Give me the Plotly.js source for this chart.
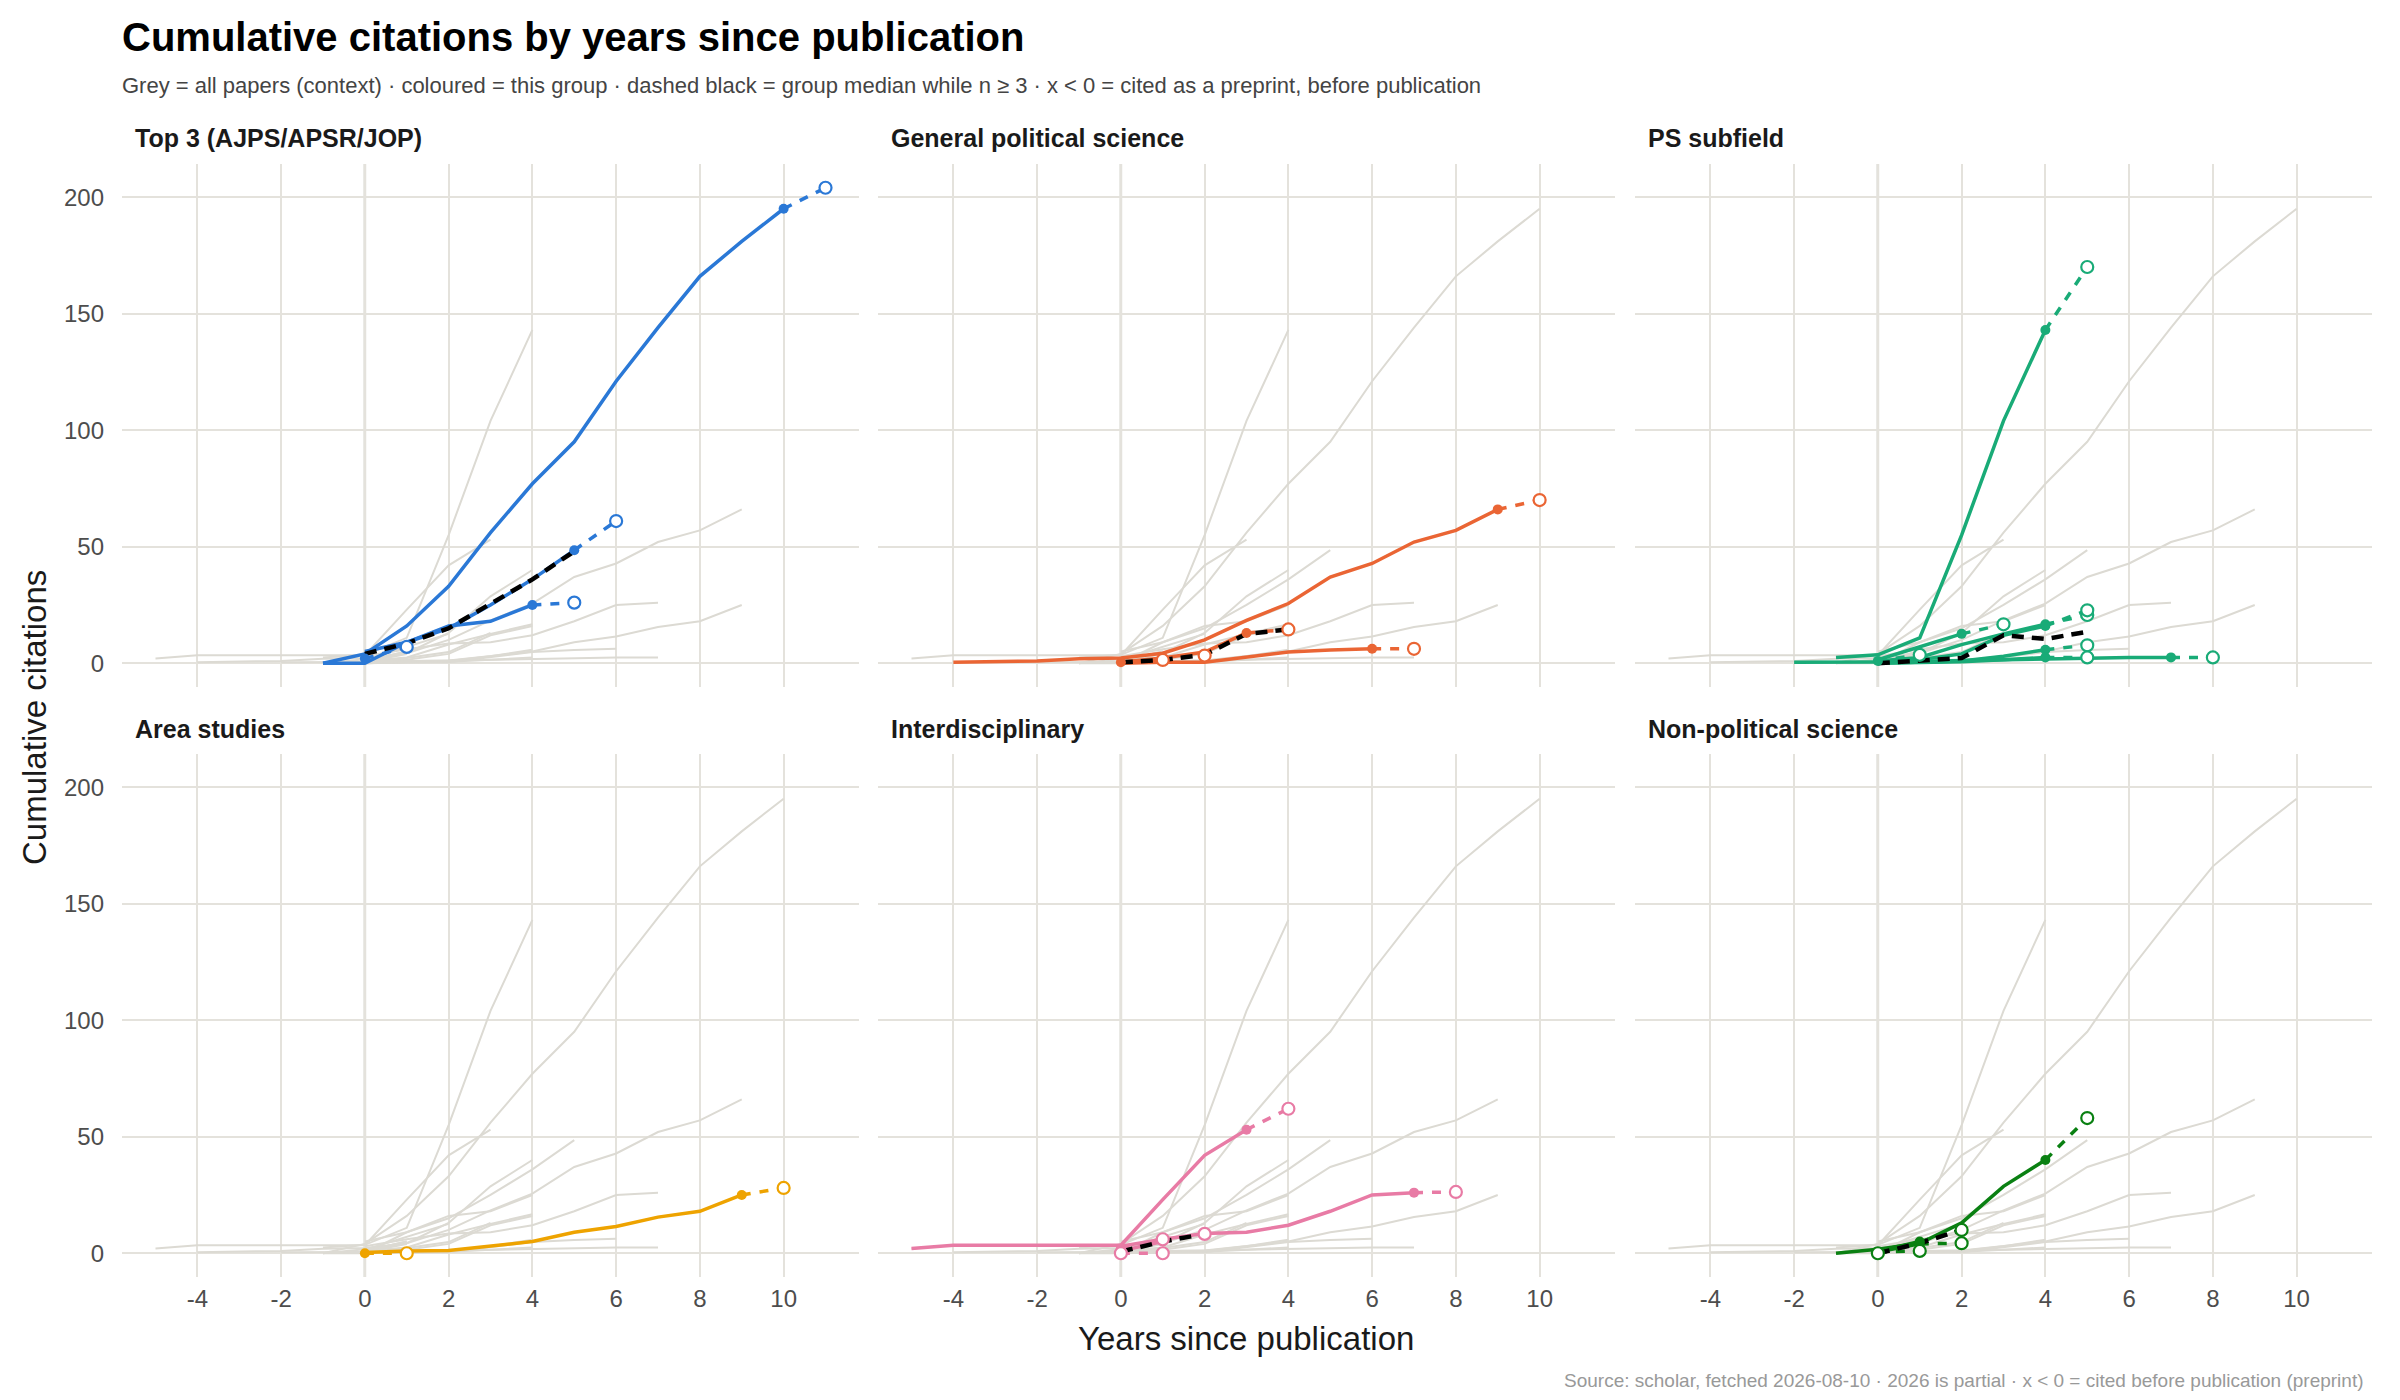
<!DOCTYPE html>
<html><head><meta charset="utf-8">
<script src="https://cdn.plot.ly/plotly-3.0.1.min.js"></script>
<style>html,body{margin:0;padding:0;background:#fff}#chart{width:2400px;height:1400px}</style>
</head><body><div id="chart"></div>
<script>
// ---------- DATA (cumulative citations) ----------
const groupNames = ['Top 3 (AJPS/APSR/JOP)', 'General political science', 'PS subfield',
                    'Area studies', 'Interdisciplinary', 'Non-political science'];
const groupColors = ['#2a78d6', '#ea6534', '#19ab77', '#eea300', '#e87ba5', '#0a8012'];

// each paper: first year (years since publication), full-year values, partial 2026 value
const top3Start   = [-1, 0, -1, 0];
const top3Full    = [[0, 4, 16, 33, 56, 77, 95, 121, 144, 166, 181, 195],
                     [5, 9, 15, 25, 36, 48.5],
                     [0, 0, 9, 16, 18, 25],
                     [2]];
const top3Partial = [204, 61, 26, 7];
const top3Median  = [4, 8.5, 15, 25.5, 36, 48];

const genStart   = [-4, 0, 0, 0, 0];
const genFull    = [[0.4, 0.7, 1, 1.9, 2.2, 4.3, 10, 18.4, 25.6, 37, 42.8, 52, 57, 66],
                    [0, 0.4, 0.4, 2.5, 4.8, 5.7, 6.2],
                    [0.4],
                    [0.5, 1.7],
                    [0.5, 2.2, 4.8, 13]];
const genPartial = [70, 6.2, 1.4, 3.3, 14.5];
const genMedian  = [0.4, 1.4, 3.6, 12.6, 14.5];

const subStart   = [-1, 0, -2, 0, 0, 0, 0, 0];
const subFull    = [[2.5, 3.6, 10.9, 55, 104, 143],
                    [1.5, 7, 12.6],
                    [0.4, 0.4, 0.5, 0.8, 1.2, 1.6, 2, 2.3, 2.5, 2.5],
                    [1, 2.5, 8, 12.6, 16.7],
                    [0.5, 1.5, 4, 12, 16],
                    [0, 0.5, 1, 3, 5.8],
                    [0, 0.3, 0.6, 1.5, 2.5],
                    [1]];
const subPartial = [170, 16.7, 2.5, 20.7, 22.7, 7.7, 2.5, 3.6];
const subMedian  = [0, 1.2, 2.2, 12, 10.4, 13.5];

const areaStart   = [0, 0];
const areaFull    = [[0],
                     [0.3, 1, 1.2, 3, 5, 9, 11.5, 15.5, 18, 25]];
const areaPartial = [0, 28];
const areaMedian  = [];

const interStart   = [-5, 0, 0, 0, 0, 0];
const interFull    = [[2, 3.4, 3.4, 3.4, 3.4, 3.4, 23, 42, 53],
                      [3, 6, 8.5, 9, 12, 18, 25, 26],
                      [2],
                      [1, 5],
                      [0],
                      []];
const interPartial = [62, 26.3, 6, 8.3, 0, 0];
const interMedian  = [0.7, 5, 8.3];

const nonStart   = [-1, 0, 0, 0, 0];
const nonFull    = [[0, 1.7, 4.3, 13, 28.7, 40],
                    [],
                    [0.5],
                    [0.5, 4],
                    [1, 5]];
const nonPartial = [58, 0, 1, 4.3, 10];
const nonMedian  = [0, 4.3, 10];

const medianStart = 0;
const xTickVals = [-4, -2, 0, 2, 4, 6, 8, 10];
const xTickText = ['-4', '-2', '0', '2', '4', '6', '8', '10'];
const yTickVals = [0, 50, 100, 150, 200];
const yTickText = ['0', '50', '100', '150', '200'];

// ---------- BUILD ----------
const groups = [
  {start: top3Start,  full: top3Full,  partial: top3Partial,  median: top3Median},
  {start: genStart,   full: genFull,   partial: genPartial,   median: genMedian},
  {start: subStart,   full: subFull,   partial: subPartial,   median: subMedian},
  {start: areaStart,  full: areaFull,  partial: areaPartial,  median: areaMedian},
  {start: interStart, full: interFull, partial: interPartial, median: interMedian},
  {start: nonStart,   full: nonFull,   partial: nonPartial,   median: nonMedian}
];
const yearsFrom = (s, n) => Array.from({length: n}, (_, i) => s + i);

const GRID = '#e4e2dc', CONTEXT = '#dcdad3', ZEROV = '#c6c6bd';
const colL = [122, 878, 1635], colW = 737;
const rowT = [164, 754], rowH = 523;
const W = 2400, H = 1400;

const traces = [];
const layout = {
  width: W, height: H, margin: {l: 0, r: 0, t: 0, b: 0},
  paper_bgcolor: '#fff', plot_bgcolor: '#fff', showlegend: false,
  font: {family: 'Liberation Sans, Arial, sans-serif', color: '#1a1a1a'},
  shapes: [], annotations: []
};

for (let k = 0; k < 6; k++) {
  const s = k === 0 ? '' : String(k + 1);
  const xa = 'x' + s, ya = 'y' + s;
  const col = k % 3, row = Math.floor(k / 3);
  layout['xaxis' + s] = {
    domain: [colL[col] / W, (colL[col] + colW) / W], anchor: ya,
    range: [-5.8, 11.8], tickvals: xTickVals, ticktext: xTickText,
    showgrid: true, gridcolor: GRID, gridwidth: 2, zeroline: false, showline: false, ticks: '',
    showticklabels: row === 1, tickfont: {size: 24, color: '#4d4d4d'}, ticklabelstandoff: 5
  };
  layout['yaxis' + s] = {
    domain: [1 - (rowT[row] + rowH) / H, 1 - rowT[row] / H], anchor: xa,
    range: [-10.2, 214.2], tickvals: yTickVals, ticktext: yTickText,
    showgrid: true, gridcolor: GRID, gridwidth: 2, zeroline: false, showline: false, ticks: '',
    showticklabels: col === 0, tickfont: {size: 24, color: '#4d4d4d'}, ticklabelstandoff: 17
  };
  layout.shapes.push({type: 'line', xref: xa, yref: ya + ' domain', x0: 0, x1: 0, y0: 0, y1: 1,
                      layer: 'below', line: {color: ZEROV, width: 2.5}});
  layout.annotations.push({text: '<b>' + groupNames[k] + '</b>', xref: 'paper', yref: 'paper',
    x: (colL[col] + 11) / W, y: 1 - (row === 0 ? 138 : 729) / H, xanchor: 'left', yanchor: 'middle',
    showarrow: false, font: {size: 25, color: '#1a1a1a'}});

  // grey context: every paper's full years
  groups.forEach(g => g.full.forEach((vals, i) => {
    if (vals.length >= 2) traces.push({type: 'scatter', mode: 'lines', xaxis: xa, yaxis: ya,
      x: yearsFrom(g.start[i], vals.length), y: vals, line: {color: CONTEXT, width: 2}, hoverinfo: 'skip'});
  }));

  const g = groups[k], c = groupColors[k];
  const filledX = [], filledY = [], openX = [], openY = [];
  g.full.forEach((vals, i) => {
    const xs = yearsFrom(g.start[i], vals.length);
    const px = g.start[i] + vals.length;
    if (vals.length >= 2) traces.push({type: 'scatter', mode: 'lines', xaxis: xa, yaxis: ya,
      x: xs, y: vals, line: {color: c, width: 3.5}, hoverinfo: 'skip'});
    if (vals.length >= 1) {
      traces.push({type: 'scatter', mode: 'lines', xaxis: xa, yaxis: ya,
        x: [xs[xs.length - 1], px], y: [vals[vals.length - 1], g.partial[i]],
        line: {color: c, width: 3.5, dash: '9px,9px'}, hoverinfo: 'skip'});
      filledX.push(xs[xs.length - 1]); filledY.push(vals[vals.length - 1]);
    }
    openX.push(px); openY.push(g.partial[i]);
  });
  if (g.median.length) traces.push({type: 'scatter', mode: 'lines', xaxis: xa, yaxis: ya,
    x: yearsFrom(medianStart, g.median.length), y: g.median,
    line: {color: '#000', width: 4.5, dash: '12px,8px'}, hoverinfo: 'skip'});
  traces.push({type: 'scatter', mode: 'markers', xaxis: xa, yaxis: ya, x: filledX, y: filledY,
    marker: {color: c, size: 10}, hoverinfo: 'skip'});
  traces.push({type: 'scatter', mode: 'markers', xaxis: xa, yaxis: ya, x: openX, y: openY,
    marker: {color: '#fff', size: 12, line: {color: c, width: 2.2}}, hoverinfo: 'skip'});
}

layout.annotations.push(
  {text: '<b>Cumulative citations by years since publication</b>', xref: 'paper', yref: 'paper',
   x: 120 / W, y: 1 - 37 / H, xanchor: 'left', yanchor: 'middle', showarrow: false,
   font: {size: 40, color: '#000'}},
  {text: 'Grey = all papers (context) · coloured = this group · dashed black = group median while n ≥ 3 · x < 0 = cited as a preprint, before publication',
   xref: 'paper', yref: 'paper', x: 120 / W, y: 1 - 85 / H, xanchor: 'left', yanchor: 'middle',
   showarrow: false, font: {size: 22, color: '#444'}},
  {text: 'Cumulative citations', xref: 'paper', yref: 'paper', x: 34 / W, y: 1 - 718 / H,
   textangle: -90, xanchor: 'center', yanchor: 'middle', showarrow: false, font: {size: 33, color: '#1a1a1a'}},
  {text: 'Years since publication', xref: 'paper', yref: 'paper', x: 1246 / W, y: 1 - 1338 / H,
   xanchor: 'center', yanchor: 'middle', showarrow: false, font: {size: 33, color: '#1a1a1a'}},
  {text: 'Source: scholar, fetched 2026-08-10 · 2026 is partial · x < 0 = cited before publication (preprint)',
   xref: 'paper', yref: 'paper', x: 2366 / W, y: 1 - 1380 / H, xanchor: 'right', yanchor: 'middle',
   showarrow: false, font: {size: 19, color: '#999'}}
);

Plotly.newPlot('chart', traces, layout, {staticPlot: true, displayModeBar: false});
</script></body></html>
